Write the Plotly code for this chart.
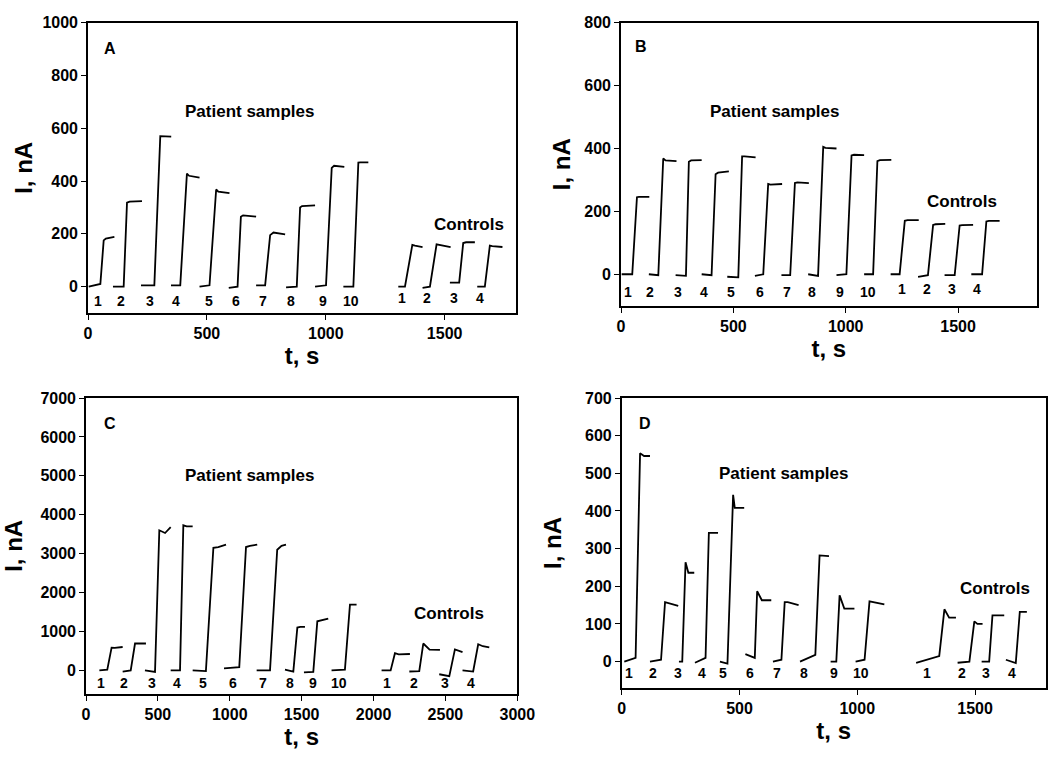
import plotly.graph_objects as go

# ---------------- data ----------------
patient_labels = ["1", "2", "3", "4", "5", "6", "7", "8", "9", "10"]
control_labels = ["1", "2", "3", "4"]

# Panel A : each step = baseline -> rise -> plateau (10 patient samples + 4 controls)
A_start  = [3, 105, 223, 349, 469, 592, 707, 833, 955, 1074, 1305, 1407, 1522, 1637]
A_rise   = [52, 150, 279, 388, 511, 629, 745, 878, 1001, 1116, 1333, 1438, 1561, 1669]
A_top    = [66, 164, 304, 416, 539, 643, 766, 892, 1025, 1137, 1364, 1466, 1578, 1690]
A_settle = [75, 175, 312, 425, 548, 652, 780, 900, 1035, 1145, 1375, 1478, 1590, 1700]
A_end    = [111, 227, 350, 469, 595, 707, 829, 955, 1078, 1179, 1407, 1525, 1627, 1743]
A_base0  = [0, 0, 5, 5, 0, -5, 5, -3, 0, 0, 0, -5, 15, 0]
A_base1  = [10, 0, 5, 5, 5, 0, 5, 0, 5, 0, 0, 0, 15, 0]
A_peak   = [175, 318, 570, 428, 368, 265, 195, 300, 450, 470, 158, 160, 165, 155]
A_level  = [182, 322, 570, 420, 360, 270, 205, 305, 458, 471, 155, 158, 168, 153]
A_final  = [188, 324, 568, 413, 354, 265, 198, 308, 454, 471, 150, 150, 168, 150]
A_lab_p  = [41, 139, 259, 370, 507, 622, 738, 853, 990, 1105]
A_lab_c  = [1322, 1424, 1539, 1648]

# Panel B
B_start  = [3, 124, 243, 359, 473, 596, 714, 833, 959, 1082, 1200, 1322, 1440, 1559]
B_rise   = [50, 166, 289, 403, 522, 633, 753, 877, 1003, 1122, 1240, 1366, 1485, 1607]
B_top    = [71, 188, 302, 421, 539, 655, 774, 900, 1026, 1141, 1263, 1389, 1507, 1626]
B_settle = [80, 198, 312, 432, 550, 665, 785, 910, 1037, 1152, 1275, 1400, 1518, 1637]
B_end    = [126, 247, 359, 480, 599, 717, 836, 959, 1082, 1203, 1325, 1443, 1567, 1685]
B_base0  = [0, 0, -3, 0, -8, -5, -3, 0, -3, 0, 0, -8, -3, 0]
B_base1  = [0, -3, -5, -3, -10, 0, -3, -5, 0, 0, 0, -3, -3, 0]
B_peak   = [245, 368, 358, 318, 375, 287, 290, 405, 378, 360, 170, 157, 155, 168]
B_level  = [246, 362, 362, 323, 375, 285, 292, 402, 380, 363, 172, 159, 156, 170]
B_final  = [246, 360, 363, 327, 372, 287, 290, 400, 379, 364, 172, 160, 157, 170]
B_lab_p  = [30, 129, 255, 370, 489, 618, 737, 851, 974, 1100]
B_lab_c  = [1251, 1363, 1473, 1586]

# Panel C
C_start  = [93, 255, 410, 589, 742, 960, 1187, 1384, 1516, 1708, 2056, 2249, 2457, 2619]
C_rise   = [148, 311, 480, 654, 834, 1066, 1280, 1442, 1581, 1801, 2119, 2318, 2527, 2693]
C_top    = [178, 341, 510, 677, 886, 1113, 1330, 1470, 1609, 1836, 2149, 2346, 2566, 2728]
C_settle = [200, 360, 550, 700, 920, 1140, 1360, 1490, 1630, 1850, 2175, 2390, 2590, 2760]
C_end    = [255, 417, 589, 742, 974, 1191, 1391, 1523, 1685, 1882, 2253, 2462, 2619, 2805]
C_base0  = [0, -30, 0, 0, 0, 50, 0, 20, -50, 0, 0, -30, -100, 0]
C_base1  = [20, 0, -40, 0, -20, 80, 0, -30, -40, 20, 0, -20, -150, -30]
C_peak   = [585, 690, 3600, 3728, 3150, 3170, 3100, 1100, 1260, 1690, 440, 690, 540, 670]
C_level  = [580, 690, 3530, 3700, 3170, 3200, 3200, 1120, 1280, 1690, 410, 530, 500, 620]
C_final  = [600, 690, 3680, 3700, 3230, 3230, 3230, 1120, 1330, 1690, 420, 525, 470, 590]
C_lab_p  = [102, 264, 457, 631, 811, 1020, 1233, 1419, 1576, 1762]
C_lab_c  = [2095, 2281, 2497, 2675]

# Panel D
D_start  = [11, 120, 243, 311, 417, 525, 642, 757, 887, 993, 1250, 1426, 1528, 1631]
D_rise   = [59, 167, 257, 356, 449, 565, 678, 822, 911, 1031, 1348, 1476, 1560, 1673]
D_top    = [78, 184, 271, 370, 473, 575, 692, 840, 925, 1052, 1370, 1497, 1574, 1690]
D_settle = [95, 200, 283, 380, 480, 595, 705, 850, 945, 1065, 1390, 1510, 1585, 1700]
D_end    = [120, 240, 308, 409, 520, 635, 751, 880, 988, 1115, 1419, 1532, 1624, 1720]
D_base0  = [0, 0, 0, -3, 0, 20, 0, 0, 0, 0, -3, -3, 0, 5]
D_base1  = [10, 5, 0, 10, -5, 10, 5, 18, 0, 5, 15, 0, 0, -4]
D_peak   = [553, 158, 264, 342, 443, 187, 158, 282, 176, 160, 139, 107, 123, 132]
D_level  = [546, 155, 236, 342, 408, 163, 158, 282, 141, 158, 117, 100, 123, 132]
D_final  = [546, 148, 236, 342, 408, 163, 150, 280, 141, 152, 117, 100, 123, 132]
D_lab_p  = [31, 131, 240, 339, 428, 544, 661, 774, 901, 1014]
D_lab_c  = [1295, 1443, 1546, 1655]

panels = [
    dict(name="A", start=A_start, rise=A_rise, top=A_top, settle=A_settle, end=A_end,
         b0=A_base0, b1=A_base1, peak=A_peak, level=A_level, final=A_final,
         lab_p=A_lab_p, lab_c=A_lab_c, lab_py=-54, lab_cy=-45,
         xr=[0, 1800], yr=[-100, 1000], xt=[0, 500, 1000, 1500], yt=list(range(0, 1001, 200)),
         dx=[88, 516], dy=[22.7, 313], letter=(94, 901), ps=(679, 664), ct=(1603, 236),
         ystand=3),
    dict(name="B", start=B_start, rise=B_rise, top=B_top, settle=B_settle, end=B_end,
         b0=B_base0, b1=B_base1, peak=B_peak, level=B_level, final=B_final,
         lab_p=B_lab_p, lab_c=B_lab_c, lab_py=-57, lab_cy=-46,
         xr=[0, 1850], yr=[-100, 800], xt=[0, 500, 1000, 1500], yt=list(range(0, 801, 200)),
         dx=[621, 1036.7], dy=[22.7, 305.7], letter=(89, 724), ps=(682, 518), ct=(1518, 230),
         ystand=7),
    dict(name="C", start=C_start, rise=C_rise, top=C_top, settle=C_settle, end=C_end,
         b0=C_base0, b1=C_base1, peak=C_peak, level=C_level, final=C_final,
         lab_p=C_lab_p, lab_c=C_lab_c, lab_py=-320, lab_cy=-320,
         xr=[0, 3000], yr=[-600, 7000], xt=list(range(0, 3001, 500)), yt=list(range(0, 7001, 1000)),
         dx=[86, 517.3], dy=[398, 693.7], letter=(167, 6354), ps=(1140, 5020), ct=(2527, 1464),
         ystand=11),
    dict(name="D", start=D_start, rise=D_rise, top=D_top, settle=D_settle, end=D_end,
         b0=D_base0, b1=D_base1, peak=D_peak, level=D_level, final=D_final,
         lab_p=D_lab_p, lab_c=D_lab_c, lab_py=-31, lab_cy=-31,
         xr=[0, 1800], yr=[-70, 700], xt=[0, 500, 1000, 1500], yt=list(range(0, 701, 100)),
         dx=[621.7, 1045.7], dy=[398, 688], letter=(99, 632), ps=(685, 500), ct=(1584, 194),
         ystand=17),
]

W, H = 1050, 766
FONT = "Liberation Sans, Arial, sans-serif"

fig = go.Figure()
annotations = []

for i, p in enumerate(panels):
    k = "" if i == 0 else str(i + 1)
    xs, ys = [], []
    for j in range(len(p["start"])):
        xs += [p["start"][j], p["rise"][j], p["top"][j], p["settle"][j], p["end"][j], None]
        ys += [p["b0"][j], p["b1"][j], p["peak"][j], p["level"][j], p["final"][j], None]
    fig.add_trace(go.Scatter(x=xs, y=ys, mode="lines", line=dict(color="black", width=1.8),
                             xaxis="x" + k, yaxis="y" + k, showlegend=False, hoverinfo="skip"))

    axis_common = dict(showline=True, linecolor="black", linewidth=1.6, mirror=True,
                       ticks="outside", ticklen=5, tickwidth=1.4, tickcolor="black",
                       showgrid=False, zeroline=False, automargin=False,
                       tickfont=dict(family=FONT, size=16, color="black", weight="bold"))
    fig.update_layout(**{
        "xaxis" + k: dict(axis_common, domain=[p["dx"][0] / W, p["dx"][1] / W],
                          range=p["xr"], tickvals=p["xt"], anchor="y" + k,
                          title=dict(text="t, s", standoff=0,
                                     font=dict(family=FONT, size=24, color="black", weight="bold"))),
        "yaxis" + k: dict(axis_common, domain=[1 - p["dy"][1] / H, 1 - p["dy"][0] / H],
                          range=p["yr"], tickvals=p["yt"], anchor="x" + k,
                          title=dict(text="I, nA", standoff=p["ystand"],
                                     font=dict(family=FONT, size=24, color="black", weight="bold"))),
    })

    xref, yref = "x" + k, "y" + k
    for lx, lt in zip(p["lab_p"], patient_labels):
        annotations.append(dict(x=lx, y=p["lab_py"], xref=xref, yref=yref, text=lt, showarrow=False,
                                font=dict(family=FONT, size=14, color="black", weight="bold")))
    for lx, lt in zip(p["lab_c"], control_labels):
        annotations.append(dict(x=lx, y=p["lab_cy"], xref=xref, yref=yref, text=lt, showarrow=False,
                                font=dict(family=FONT, size=14, color="black", weight="bold")))
    annotations.append(dict(x=p["letter"][0], y=p["letter"][1], xref=xref, yref=yref, text=p["name"],
                            showarrow=False, font=dict(family=FONT, size=16, color="black", weight="bold")))
    annotations.append(dict(x=p["ps"][0], y=p["ps"][1], xref=xref, yref=yref, text="Patient samples",
                            showarrow=False, font=dict(family=FONT, size=17, color="black", weight="bold")))
    annotations.append(dict(x=p["ct"][0], y=p["ct"][1], xref=xref, yref=yref, text="Controls",
                            showarrow=False, font=dict(family=FONT, size=17, color="black", weight="bold")))

fig.update_layout(width=W, height=H, margin=dict(l=0, r=0, t=0, b=0, autoexpand=False),
                  paper_bgcolor="white", plot_bgcolor="white",
                  annotations=annotations, showlegend=False)

fig.write_html("out.html", config={"displayModeBar": False},
               post_script="document.body.style.margin='0';document.body.style.padding='0';")
